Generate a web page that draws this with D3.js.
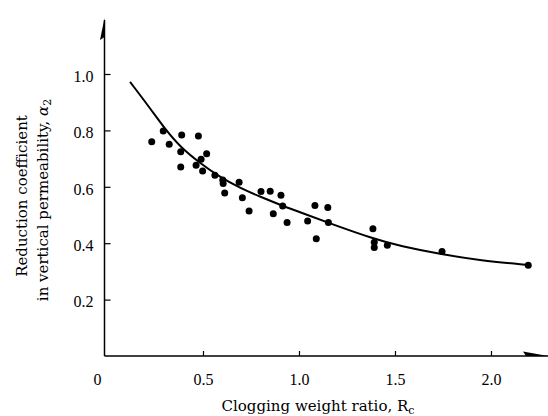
<!DOCTYPE html>
<html>
<head>
<meta charset="utf-8">
<script src="https://cdn.jsdelivr.net/npm/d3@7"></script>
<style>
  body { margin: 0; background: #fff; }
  svg { display: block; }
</style>
</head>
<body>
<script>
// measured points: clogging weight ratio Rc vs reduction coefficient alpha2
const rcValues = [0.233, 0.293, 0.324, 0.389, 0.476, 0.384, 0.384, 0.519, 0.49, 0.464,
                  0.498, 0.562, 0.603, 0.605, 0.613, 0.688, 0.705, 0.74, 0.802, 0.85,
                  0.906, 0.915, 0.866, 0.938, 1.045, 1.083, 1.15, 1.153, 1.09, 1.385,
                  1.392, 1.392, 1.46, 1.745, 2.194];
const alphaValues = [0.76, 0.798, 0.751, 0.784, 0.78, 0.724, 0.67, 0.717, 0.698, 0.676,
                     0.656, 0.641, 0.624, 0.612, 0.578, 0.616, 0.561, 0.514, 0.583, 0.584,
                     0.57, 0.532, 0.504, 0.473, 0.479, 0.534, 0.527, 0.473, 0.416, 0.451,
                     0.403, 0.385, 0.393, 0.371, 0.322];

// fitted curve
const curveRc = [0.12, 0.224, 0.302, 0.38, 0.484, 0.589, 0.693, 0.797, 0.917, 1.005,
                 1.161, 1.39, 1.526, 1.745, 1.943, 2.193];
const curveAlpha = [0.972, 0.879, 0.805, 0.742, 0.684, 0.634, 0.596, 0.565, 0.532, 0.51,
                    0.47, 0.415, 0.39, 0.36, 0.339, 0.323];

const xTicks = [0, 0.5, 1.0, 1.5, 2.0];
const xTickLabels = ["0", "0.5", "1.0", "1.5", "2.0"];
const yTicks = [0.2, 0.4, 0.6, 0.8, 1.0];
const yTickLabels = ["0.2", "0.4", "0.6", "0.8", "1.0"];

const width = 548, height = 416;
const tickFont = "Liberation Serif, serif";
const titleFont = "DejaVu Serif, serif";

const x = d3.scaleLinear().domain([0, 2]).range([107, 491]);
const y = d3.scaleLinear().domain([0, 1]).range([356, 74]);

const svg = d3.select("body").append("svg")
    .attr("width", width)
    .attr("height", height);

// axis lines with half arrow heads
const x0 = x(0) - 2.5, y0 = y(0);
svg.append("line")
    .attr("x1", x0).attr("x2", width)
    .attr("y1", y0).attr("y2", y0)
    .attr("stroke", "#000").attr("stroke-width", 1.5);
svg.append("line")
    .attr("x1", x0).attr("x2", x0)
    .attr("y1", y0).attr("y2", 20)
    .attr("stroke", "#000").attr("stroke-width", 1.5);
svg.append("path")
    .attr("d", `M${x0},18 L${x0 - 4.5},40 L${x0},37 Z`)
    .attr("fill", "#000");
svg.append("path")
    .attr("d", `M${width},${y0} L${width - 25},${y0 - 4.5} L${width - 22},${y0} Z`)
    .attr("fill", "#000");

// x axis ticks
const xAxis = svg.append("g")
    .attr("transform", `translate(0,${y0})`)
    .call(d3.axisBottom(x)
        .tickValues(xTicks)
        .tickFormat((d, i) => xTickLabels[i])
        .tickSizeInner(-5)
        .tickSizeOuter(0)
        .tickPadding(18))
    .attr("font-family", tickFont)
    .attr("font-size", 16);
xAxis.select(".domain").remove();
xAxis.selectAll("text").attr("fill", "#000");
xAxis.selectAll("line").attr("stroke-width", 1.2);
xAxis.selectAll(".tick").filter(d => d === 0).select("line").remove();
xAxis.selectAll(".tick").filter(d => d === 0).select("text").attr("x", -10);

// y axis ticks
const yAxis = svg.append("g")
    .attr("transform", `translate(${x0},0)`)
    .call(d3.axisLeft(y)
        .tickValues(yTicks)
        .tickFormat((d, i) => yTickLabels[i])
        .tickSizeInner(-6)
        .tickSizeOuter(0)
        .tickPadding(11))
    .attr("font-family", tickFont)
    .attr("font-size", 16);
yAxis.select(".domain").remove();
yAxis.selectAll("text").attr("fill", "#000").attr("dy", "0.45em");
yAxis.selectAll("line").attr("stroke-width", 1.2);

// fitted curve
const line = d3.line()
    .x((d, i) => x(curveRc[i]))
    .y(d => y(d))
    .curve(d3.curveBasis);
svg.append("path")
    .attr("d", line(curveAlpha))
    .attr("fill", "none")
    .attr("stroke", "#000")
    .attr("stroke-width", 2);

// data points
svg.append("g")
    .selectAll("circle")
    .data(alphaValues)
    .join("circle")
    .attr("cx", (d, i) => x(rcValues[i]))
    .attr("cy", d => y(d))
    .attr("r", 3.5)
    .attr("fill", "#000");

// axis titles
const xTitle = svg.append("text")
    .attr("x", 318).attr("y", 411)
    .attr("text-anchor", "middle")
    .attr("font-family", titleFont)
    .attr("font-size", 15);
xTitle.append("tspan").text("Clogging weight ratio, R");
xTitle.append("tspan").attr("font-size", 11).attr("dy", 3).text("c");

svg.append("text")
    .attr("transform", "translate(27,196) rotate(-90)")
    .attr("text-anchor", "middle")
    .attr("font-family", titleFont)
    .attr("font-size", 15)
    .text("Reduction coefficient");
const yTitle = svg.append("text")
    .attr("transform", "translate(48,200) rotate(-90)")
    .attr("text-anchor", "middle")
    .attr("font-family", titleFont)
    .attr("font-size", 15);
yTitle.append("tspan").text("in vertical permeability, ");
yTitle.append("tspan").attr("font-style", "italic").text("α");
yTitle.append("tspan").attr("font-size", 11).attr("dy", 3).text("2");
</script>
</body>
</html>
